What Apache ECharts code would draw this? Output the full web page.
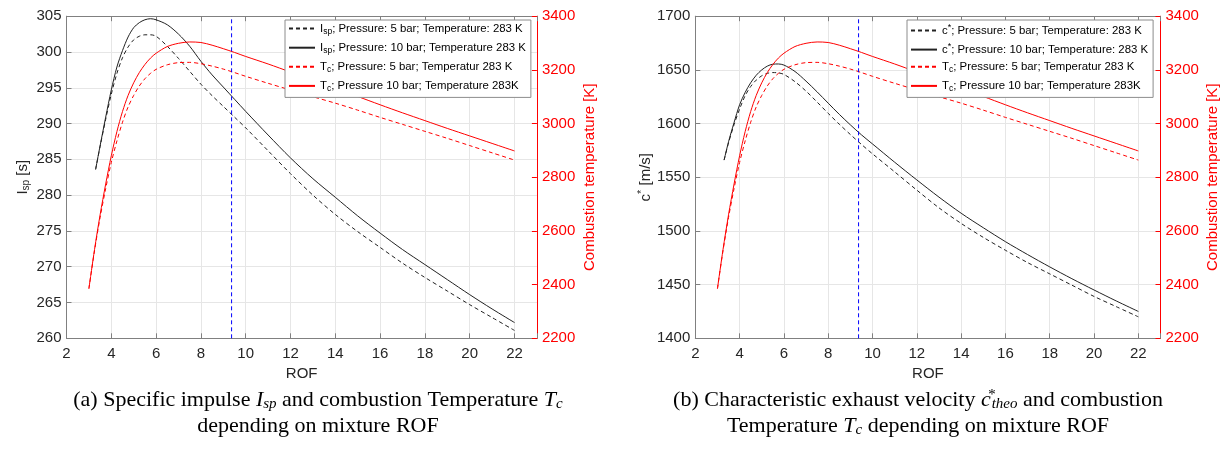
<!DOCTYPE html>
<html><head><meta charset="utf-8">
<script src="https://cdn.jsdelivr.net/npm/echarts@6/dist/echarts.min.js"></script>
<style>html,body{margin:0;padding:0;background:#fff}#c{width:1227px;height:452px}</style>
</head><body><div id="c"></div>
<script>
// ---- data ----
const rofIsp = [3.3,3.5,3.75,4,4.25,4.5,4.75,5,5.25,5.5,5.75,6,6.5,7,7.5,8,8.5,9,9.5,10,11,12,13,14,15,16,17,18,19,20,21,22];
const isp5  = [283.6,286.8,290.6,294.1,297.0,299.2,300.7,301.7,302.2,302.4,302.4,302.2,300.8,299.1,297.3,295.5,293.9,292.4,290.9,289.4,286.2,283.0,280.0,277.3,274.9,272.7,270.5,268.5,266.6,264.7,262.9,261.1];
const isp10 = [283.6,286.9,290.9,294.7,297.9,300.2,302.1,303.4,304.1,304.5,304.65,304.5,303.8,302.5,300.8,298.7,296.8,295.1,293.4,291.7,288.4,285.2,282.3,279.7,277.1,274.7,272.4,270.3,268.2,266.1,264.1,262.2];
const rofCstar = [3.3,3.5,3.75,4,4.25,4.5,4.75,5,5.25,5.5,5.75,6,6.5,7,7.5,8,8.5,9,9.5,10,11,12,13,14,15,16,17,18,19,20,21,22];
const cstar5  = [1566,1582,1599,1613.5,1626,1634.5,1640.5,1644.5,1646.8,1647.5,1647.2,1645.8,1639,1630.2,1620,1609.5,1599.4,1589.8,1580.6,1571.8,1555,1538,1521.5,1507,1494,1482,1470.5,1460,1449.5,1439,1429.5,1420];
const cstar10 = [1566,1583,1601,1617.5,1629,1638,1645,1650,1653.5,1655.3,1655.5,1654.5,1648.5,1639.5,1629.5,1619,1608.6,1598.8,1589.5,1581,1564,1547.5,1531.5,1516.5,1503,1490,1478,1466.5,1455.5,1445,1434.8,1425];
const rofTc = [3,3.25,3.5,3.75,4,4.25,4.5,4.75,5,5.25,5.5,5.75,6,6.5,7,7.5,8,8.5,9,9.5,10,11,12,13,14,15,16,17,18,19,20,21,22];
const tc5  = [2385,2526,2650,2758,2855,2935,3005,3062,3105,3140,3167,3187,3202,3219,3227,3228,3223,3214,3203,3190,3176,3150,3125,3100,3076,3050,3023,2997,2971,2945,2918,2891,2864];
const tc10 = [2385,2530,2660,2775,2880,2970,3045,3105,3152,3190,3220,3244,3262,3287,3299,3304,3302,3292,3279,3265,3250,3222,3192,3162,3132,3101,3070,3040,3011,2982,2954,2926,2898];
const designRof = 9.37;
const rofTicks = [2,4,6,8,10,12,14,16,18,20,22];
const rofMax = 23;
const ispTicks = [260,265,270,275,280,285,290,295,300,305];
const cstarTicks = [1400,1450,1500,1550,1600,1650,1700];
const tcTicks = [2200,2400,2600,2800,3000,3200,3400];

const zip = (xs, ys) => xs.map((x, i) => [x, ys[i]]);
const GRAY = '#808080', TXT = '#262626', RED = '#ff0000', BLK = '#222222', BLUE = '#0000ff';
const FONT = 'Liberation Sans';

function xAx(gi, top) {
  return {
    type: 'value', gridIndex: gi, position: top ? 'top' : 'bottom',
    min: rofTicks[0], max: rofMax, interval: rofTicks[1] - rofTicks[0],
    axisLine: {show: true, onZero: false, lineStyle: {color: GRAY, width: 1}},
    axisTick: {show: true, inside: true, length: 5, lineStyle: {color: GRAY}},
    axisLabel: top ? {show: false} : {color: TXT, fontSize: 15, fontFamily: FONT, margin: 8,
      formatter: v => (rofTicks.indexOf(v) >= 0 ? String(v) : '')},
    splitLine: {show: !top, lineStyle: {color: '#e6e6e6', width: 1}},
    name: top ? '' : 'ROF', nameLocation: 'middle', nameGap: 27,
    nameTextStyle: {color: TXT, fontSize: 15, fontFamily: FONT}
  };
}
function yLeft(gi, ticks, name, rich) {
  return {
    type: 'value', gridIndex: gi, position: 'left',
    min: ticks[0], max: ticks[ticks.length - 1], interval: ticks[1] - ticks[0],
    axisLine: {show: true, lineStyle: {color: GRAY, width: 1}},
    axisTick: {show: true, inside: true, length: 5, lineStyle: {color: GRAY}},
    axisLabel: {color: TXT, fontSize: 15, fontFamily: FONT, margin: 5, formatter: v => String(v)},
    splitLine: {show: true, lineStyle: {color: '#e6e6e6', width: 1}},
    name: name, nameLocation: 'middle', nameRotate: 90, nameGap: 35,
    nameTextStyle: {color: TXT, fontSize: 15, fontFamily: FONT, rich: rich}
  };
}
function yRight(gi) {
  return {
    type: 'value', gridIndex: gi, position: 'right',
    min: tcTicks[0], max: tcTicks[tcTicks.length - 1], interval: tcTicks[1] - tcTicks[0],
    axisLine: {show: true, lineStyle: {color: RED, width: 1}},
    axisTick: {show: true, inside: true, length: 5, lineStyle: {color: RED}},
    axisLabel: {color: RED, fontSize: 15, fontFamily: FONT, margin: 5, formatter: v => String(v)},
    splitLine: {show: false},
    name: 'Combustion temperature [K]', nameLocation: 'middle', nameRotate: 90, nameGap: 45,
    nameTextStyle: {color: RED, fontSize: 15, fontFamily: FONT}
  };
}
const axRich = {
  n: {fontSize: 15, color: TXT, fontFamily: FONT},
  sub: {fontSize: 10, color: TXT, fontFamily: FONT, padding: [8, 0, 0, 0]},
  sup: {fontSize: 11, color: TXT, fontFamily: FONT, padding: [0, 0, 8, 0]}
};

function line(name, xi, yi, data, color, dashed) {
  return {
    name: name, type: 'line', xAxisIndex: xi, yAxisIndex: yi, data: data,
    symbol: 'none', smooth: 0.3, silent: true,
    lineStyle: {color: color, width: 1, type: dashed ? [4, 3] : 'solid'},
    itemStyle: {color: color}
  };
}
// vertical design-point line, spanning the full y range of its axis
function designLine(xi, yi, ticks) {
  return {
    name: 'design', type: 'line', xAxisIndex: xi, yAxisIndex: yi,
    data: [[designRof, ticks[0]], [designRof, ticks[ticks.length - 1]]],
    symbol: 'none', silent: true, z: 3, clip: false,
    lineStyle: {color: BLUE, width: 1, type: [4, 3]}, itemStyle: {color: BLUE}
  };
}

const N = {
  i5: 'I_sp; Pressure: 5 bar; Temperature: 283 K',
  i10: 'I_sp; Pressure: 10 bar; Temperature 283 K',
  c5: 'c^*; Pressure: 5 bar; Temperature: 283 K',
  c10: 'c^*; Pressure: 10 bar; Temperature: 283 K',
  t5: 'T_c; Pressure: 5 bar; Temperatur 283 K',
  t10: 'T_c; Pressure 10 bar; Temperature 283K'
};
function legFmt(name) {
  let m = name.match(/^(\w)_(\w+)(.*)$/);
  if (m) return '{n|' + m[1] + '}{sub|' + m[2] + '}{n|' + m[3] + '}';
  m = name.match(/^(\w)\^\*(.*)$/);
  if (m) return '{n|' + m[1] + '}{sup|*}{n|' + m[2] + '}';
  return '{n|' + name + '}';
}
const legRich = {
  n: {fontSize: 11.4, color: '#000', fontFamily: FONT, lineHeight: 15},
  sub: {fontSize: 8.5, color: '#000', fontFamily: FONT, padding: [6, 0, 0, 0]},
  sup: {fontSize: 9, color: '#000', fontFamily: FONT, padding: [0, 0, 6, 0]}
};
function legend(left, names) {
  return {
    orient: 'vertical', left: left, top: 20, data: names, selectedMode: false,
    itemWidth: 26, itemHeight: 14, itemGap: 6, padding: [3, 5, 4, 3],
    backgroundColor: '#ffffff', borderColor: '#8c8c8c', borderWidth: 1, borderRadius: 0,
    itemStyle: {color: 'rgba(0,0,0,0)', borderColor: 'rgba(0,0,0,0)', borderWidth: 0, opacity: 0},
    formatter: legFmt, textStyle: {fontSize: 11.4, color: '#000', fontFamily: FONT, rich: legRich}
  };
}

const capRich = {
  t: {fontFamily: 'Liberation Serif', fontSize: 22, fill: '#000'},
  i: {fontFamily: 'Liberation Serif', fontSize: 22, fontStyle: 'italic', fill: '#000'},
  isub: {fontFamily: 'Liberation Serif', fontSize: 15, fontStyle: 'italic', fill: '#000', padding: [9, 0, 0, 0]},
  isup: {fontFamily: 'Liberation Serif', fontSize: 15, fontStyle: 'italic', fill: '#000', padding: [0, 0, 9, 0], width: 1}
};

const option = {
  backgroundColor: '#ffffff',
  animation: false,
  grid: [
    {left: 66.5, top: 16.2, width: 470.4, height: 322.1, outerBoundsMode: 'none'},
    {left: 695.3, top: 16.2, width: 465.2, height: 322.1, outerBoundsMode: 'none'}
  ],
  xAxis: [xAx(0, false), xAx(0, true), xAx(1, false), xAx(1, true)],
  yAxis: [
    yLeft(0, ispTicks, '{n|I}{sub|sp}{n| [s]}', axRich),
    yRight(0),
    yLeft(1, cstarTicks, '{n|c}{sup|*}{n| [m/s]}', axRich),
    yRight(1)
  ],
  legend: [legend(285, [N.i5, N.i10, N.t5, N.t10]), legend(907, [N.c5, N.c10, N.t5, N.t10])],
  series: [
    line(N.i5, 0, 0, zip(rofIsp, isp5), BLK, true),
    line(N.i10, 0, 0, zip(rofIsp, isp10), BLK, false),
    line(N.t5, 0, 1, zip(rofTc, tc5), RED, true),
    line(N.t10, 0, 1, zip(rofTc, tc10), RED, false),
    designLine(0, 0, ispTicks),
    line(N.c5, 2, 2, zip(rofCstar, cstar5), BLK, true),
    line(N.c10, 2, 2, zip(rofCstar, cstar10), BLK, false),
    line(N.t5, 2, 3, zip(rofTc, tc5), RED, true),
    line(N.t10, 2, 3, zip(rofTc, tc10), RED, false),
    designLine(2, 2, cstarTicks)
  ],
  graphic: [
    {type: 'text', x: 318, y: 387, silent: true, style: {
      text: '{t|(a) Specific impulse }{i|I}{isub|sp}{t| and combustion Temperature }{i|T}{isub|c}\n{t|depending on mixture ROF}',
      rich: capRich, align: 'center', verticalAlign: 'top', lineHeight: 26}},
    {type: 'text', x: 918, y: 387, silent: true, style: {
      text: '{t|(b) Characteristic exhaust velocity }{i|c}{isup|*}{isub|theo}{t| and combustion}\n{t|Temperature }{i|T}{isub|c}{t| depending on mixture ROF}',
      rich: capRich, align: 'center', verticalAlign: 'top', lineHeight: 26}}
  ]
};
const chart = echarts.init(document.getElementById('c'), null, {renderer: 'canvas'});
chart.setOption(option);
</script></body></html>
